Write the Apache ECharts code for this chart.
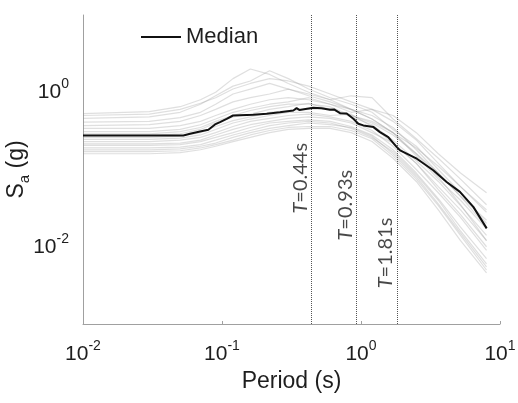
<!DOCTYPE html>
<html>
<head>
<meta charset="utf-8">
<script src="https://cdn.jsdelivr.net/npm/echarts@6/dist/echarts.min.js"></script>
<style>
html, body { margin: 0; padding: 0; background: #fff; }
#chart { width: 518px; height: 403px; }
</style>
</head>
<body>
<div id="chart"></div>
<script>
// periods shared by the individual records (s)
const periods = [0.01, 0.03, 0.05, 0.07, 0.09, 0.12, 0.16, 0.22, 0.3, 0.42, 0.6, 0.85, 1.2, 1.7, 2.5, 3.6, 5.2, 8];

// spectral acceleration of each record (g)
const records = [
    [0.53, 0.56, 0.65, 0.8, 1.0, 1.5, 2.0, 1.7, 1.3, 1.0, 0.8, 0.6, 0.45, 0.3, 0.16, 0.08, 0.035, 0.012],
    [0.46, 0.48, 0.55, 0.7, 0.9, 1.2, 1.4, 1.9, 1.5, 1.1, 0.85, 0.7, 0.55, 0.33, 0.2, 0.1, 0.05, 0.02],
    [0.41, 0.42, 0.47, 0.55, 0.7, 0.95, 1.1, 1.3, 1.1, 0.9, 0.75, 0.6, 0.5, 0.35, 0.18, 0.09, 0.045, 0.018],
    [0.37, 0.38, 0.42, 0.5, 0.6, 0.75, 0.85, 0.95, 1.1, 0.95, 0.8, 0.9, 0.85, 0.45, 0.25, 0.14, 0.075, 0.035],
    [0.34, 0.34, 0.37, 0.42, 0.5, 0.6, 0.7, 0.8, 0.85, 0.8, 0.7, 0.55, 0.6, 0.5, 0.3, 0.16, 0.09, 0.05],
    [0.31, 0.31, 0.33, 0.38, 0.45, 0.55, 0.62, 0.7, 0.75, 0.85, 0.7, 0.6, 0.45, 0.3, 0.19, 0.11, 0.06, 0.03],
    [0.29, 0.29, 0.31, 0.35, 0.42, 0.5, 0.58, 0.65, 0.7, 0.7, 0.65, 0.5, 0.4, 0.28, 0.16, 0.09, 0.045, 0.022],
    [0.276, 0.276, 0.29, 0.33, 0.4, 0.48, 0.52, 0.6, 0.65, 0.72, 0.6, 0.5, 0.42, 0.3, 0.15, 0.075, 0.04, 0.017],
    [0.26, 0.26, 0.27, 0.3, 0.36, 0.43, 0.48, 0.55, 0.58, 0.6, 0.62, 0.48, 0.38, 0.24, 0.13, 0.07, 0.034, 0.014],
    [0.245, 0.245, 0.255, 0.28, 0.33, 0.4, 0.45, 0.5, 0.55, 0.55, 0.5, 0.52, 0.36, 0.22, 0.12, 0.06, 0.03, 0.012],
    [0.23, 0.23, 0.24, 0.26, 0.3, 0.36, 0.42, 0.46, 0.5, 0.52, 0.48, 0.42, 0.32, 0.2, 0.1, 0.05, 0.024, 0.009],
    [0.215, 0.215, 0.22, 0.24, 0.28, 0.33, 0.38, 0.42, 0.46, 0.48, 0.46, 0.4, 0.3, 0.22, 0.12, 0.055, 0.026, 0.01],
    [0.205, 0.205, 0.21, 0.23, 0.26, 0.3, 0.35, 0.4, 0.42, 0.44, 0.42, 0.36, 0.28, 0.18, 0.09, 0.042, 0.018, 0.007],
    [0.19, 0.19, 0.195, 0.21, 0.24, 0.28, 0.32, 0.37, 0.4, 0.42, 0.4, 0.34, 0.26, 0.17, 0.085, 0.04, 0.016, 0.006],
    [0.18, 0.18, 0.185, 0.2, 0.22, 0.26, 0.3, 0.34, 0.37, 0.4, 0.38, 0.35, 0.27, 0.16, 0.08, 0.036, 0.015, 0.0055],
    [0.17, 0.17, 0.175, 0.19, 0.21, 0.24, 0.28, 0.32, 0.35, 0.36, 0.36, 0.32, 0.25, 0.15, 0.075, 0.034, 0.014, 0.005],
    [0.16, 0.16, 0.165, 0.18, 0.2, 0.23, 0.26, 0.3, 0.33, 0.34, 0.34, 0.3, 0.23, 0.14, 0.07, 0.03, 0.012, 0.0046],
    [0.5, 0.52, 0.6, 0.72, 0.85, 1.1, 1.3, 1.5, 1.4, 1.2, 0.95, 0.75, 0.6, 0.42, 0.24, 0.12, 0.06, 0.028]
];

// median spectrum
const medianT = [0.01, 0.0527, 0.0589, 0.0695, 0.0798, 0.0891, 0.0968, 0.108, 0.12, 0.168, 0.21, 0.261, 0.326, 0.344, 0.36, 0.454, 0.52, 0.598, 0.64, 0.706, 0.789, 0.881, 0.957, 1.04, 1.23, 1.37, 1.57, 1.81, 1.91, 2.52, 3.31, 4.13, 5.15, 6.43, 8.02];
const medianSa = [0.276, 0.276, 0.29, 0.311, 0.327, 0.383, 0.41, 0.453, 0.5, 0.511, 0.526, 0.552, 0.581, 0.622, 0.59, 0.628, 0.62, 0.592, 0.6, 0.536, 0.53, 0.453, 0.391, 0.372, 0.354, 0.305, 0.263, 0.195, 0.177, 0.138, 0.0977, 0.069, 0.0513, 0.0328, 0.0173];

// marked periods and the height where their labels sit
const markT = [0.44, 0.93, 1.81];
const markLabelSa = [0.077, 0.0345, 0.0083];

const font = 'Liberation Sans, Arial, sans-serif';
const textColor = '#1e1e1e';

function powLabel(v, skipOdd) {
    const e = Math.round(Math.log10(v));
    if (skipOdd && e % 2 !== 0) return '';
    return '{b|10}{s|' + e + '}';
}

const powRich = {
    b: { fontSize: 21, lineHeight: 30, fontFamily: font, color: textColor },
    s: { fontSize: 14, lineHeight: 14, verticalAlign: 'top', fontFamily: font, color: textColor }
};

const chart = echarts.init(document.getElementById('chart'));

const series = records.map(function (r, i) {
    return {
        name: 'rec' + (i + 1),
        type: 'line',
        data: periods.map(function (p, j) { return [p, r[j]]; }),
        symbol: 'none',
        silent: true,
        z: 1,
        lineStyle: { color: 'rgba(150,150,150,0.3)', width: 1.2 }
    };
});

series.push({
    name: 'Median',
    type: 'line',
    data: medianT.map(function (t, i) { return [t, medianSa[i]]; }),
    symbol: 'none',
    z: 5,
    itemStyle: { color: '#111' },
    lineStyle: { color: '#111', width: 2 },
    markLine: {
        silent: true,
        symbol: 'none',
        label: { show: false },
        lineStyle: { type: 'dotted', color: '#555', width: 1 },
        data: markT.map(function (t) { return { xAxis: t }; })
    }
});

series.push({
    name: 'periodLabels',
    type: 'scatter',
    symbolSize: 1,
    itemStyle: { color: 'rgba(0,0,0,0)' },
    silent: true,
    z: 6,
    data: markT.map(function (t, i) { return [t, markLabelSa[i]]; }),
    label: {
        show: true,
        position: 'inside',
        rotate: 90,
        align: 'center',
        verticalAlign: 'bottom',
        padding: [0, 0, 1, 0],
        fontFamily: 'Lato, sans-serif',
        fontSize: 20,
        color: '#1a1a1a',
        formatter: function (p) { return '{i|T}=' + p.value[0].toFixed(2) + 's'; },
        rich: {
            i: { fontStyle: 'italic', fontFamily: 'Lato, sans-serif', fontSize: 20, color: '#1a1a1a' }
        }
    }
});

const option = {
    animation: false,
    backgroundColor: '#fff',
    grid: { left: 83, right: 18, top: 15, bottom: 79, containLabel: false, outerBoundsMode: 'none' },
    legend: {
        data: [{ name: 'Median', icon: 'rect', itemStyle: { color: '#111' } }],
        left: 136,
        top: 21,
        itemWidth: 40,
        itemHeight: 2,
        textStyle: { fontSize: 22, fontFamily: font, color: textColor }
    },
    xAxis: {
        type: 'log',
        logBase: 10,
        min: 0.01,
        max: 10,
        name: 'Period (s)',
        nameLocation: 'middle',
        nameGap: 46,
        nameMoveOverlap: false,
        nameTextStyle: { fontSize: 23, fontFamily: font, color: textColor },
        axisLine: { lineStyle: { color: '#a0a0a0', width: 1 } },
        axisTick: { inside: true, length: 3, lineStyle: { color: '#a0a0a0' } },
        minorTick: { show: false },
        splitLine: { show: false },
        axisLabel: {
            margin: 15,
            showMinLabel: true,
            showMaxLabel: true,
            formatter: function (v) { return powLabel(v, false); },
            rich: powRich
        }
    },
    yAxis: {
        type: 'log',
        logBase: 10,
        min: 0.001,
        max: 10,
        name: 'S{sub|a} (g)',
        nameLocation: 'middle',
        nameGap: 51,
        nameMoveOverlap: false,
        nameTextStyle: {
            fontSize: 23,
            lineHeight: 30,
            fontFamily: font,
            color: textColor,
            rich: { sub: { fontSize: 15, lineHeight: 15, verticalAlign: 'bottom', fontFamily: font, color: textColor } }
        },
        axisLine: { show: true, lineStyle: { color: '#a0a0a0', width: 1 } },
        axisTick: { show: false },
        minorTick: { show: false },
        splitLine: { show: false },
        axisLabel: {
            margin: 14,
            formatter: function (v) { return powLabel(v, true); },
            rich: powRich
        }
    },
    series: series
};

chart.setOption(option);
</script>
</body>
</html>
